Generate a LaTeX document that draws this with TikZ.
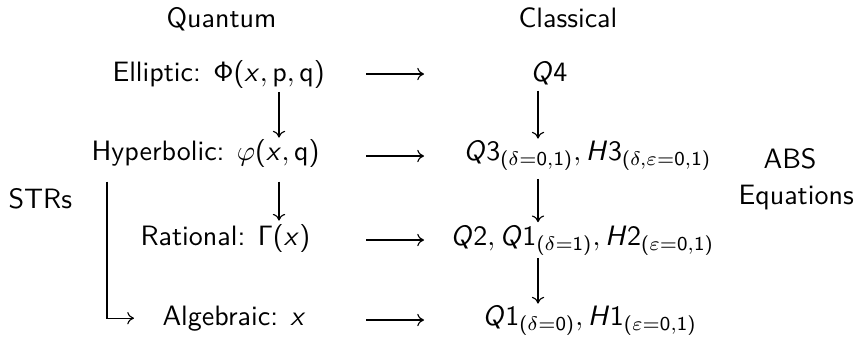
\documentclass[tikz,border=0pt]{standalone}
\usetikzlibrary{arrows.meta}
\renewcommand{\familydefault}{\sfdefault}
% sans math as on slides
\DeclareSymbolFont{sfletters}{OT1}{cmss}{m}{sl}
\DeclareSymbolFont{sfupright}{OT1}{cmss}{m}{n}
\DeclareMathSymbol{x}{\mathalpha}{sfletters}{`x}
\DeclareMathSymbol{Q}{\mathalpha}{sfletters}{`Q}
\DeclareMathSymbol{H}{\mathalpha}{sfletters}{`H}
\DeclareMathSymbol{p}{\mathalpha}{sfupright}{`p}
\DeclareMathSymbol{q}{\mathalpha}{sfupright}{`q}
\DeclareMathSymbol{0}{\mathalpha}{sfupright}{`0}
\DeclareMathSymbol{1}{\mathalpha}{sfupright}{`1}
\DeclareMathSymbol{2}{\mathalpha}{sfupright}{`2}
\DeclareMathSymbol{3}{\mathalpha}{sfupright}{`3}
\DeclareMathSymbol{4}{\mathalpha}{sfupright}{`4}
\DeclareMathSymbol{\sfPhi}{\mathalpha}{sfupright}{"08}
\DeclareMathSymbol{\sfGamma}{\mathalpha}{sfupright}{"00}
\DeclareMathSymbol{(}{\mathopen}{sfupright}{`(}
\DeclareMathSymbol{)}{\mathclose}{sfupright}{`)}
\begin{document}
\begin{tikzpicture}[x=0.357pt,y=-0.357pt,
  lbl/.style={inner sep=0pt,anchor=base west,font=\sffamily},
  arr/.style={-{Computer Modern Rightarrow[length=2.4pt,width=4.4pt]},line width=0.4pt}]
  \useasboundingbox (0,0) rectangle (859,337);
  % headings
  \node[lbl] (quant) at (166,27) {Quantum};
  \node[lbl] (class) at (518,27) {Classical};
  \node[lbl] (strs) at (8,208) {STRs};
  \node[lbl] (abs) at (763,168) {ABS};
  \node[lbl] (eqs) at (738,204) {Equations};
  % quantum side
  \node[lbl] (ell) at (112,81) {Elliptic: $\sfPhi(x,p,q)$};
  \node[lbl] (hyp) at (91,160) {Hyperbolic: $\varphi(x,q)$};
  \node[lbl] (rat) at (140,245) {Rational: $\sfGamma(x)$};
  \node[lbl] (alg) at (162,325) {Algebraic: $x$};
  % classical side
  \node[lbl] (q4) at (530,81) {$Q4$};
  \node[lbl] (q3) at (463,160) {$Q3_{(\delta=0,1)},H3_{(\delta,\varepsilon=0,1)}$};
  \node[lbl] (q2) at (450,245) {$Q2,Q1_{(\delta=1)},H2_{(\varepsilon=0,1)}$};
  \node[lbl] (q1) at (482,325) {$Q1_{(\delta=0)},H1_{(\varepsilon=0,1)}$};
  % columns of the vertical arrows
  \coordinate (qcol) at (279,0);
  \coordinate (ccol) at (538,0);
  \coordinate (lcol) at (107,0);
  % quantum to classical
  \foreach \r/\y in {1/74,2/156,3/240,4/320} {
    \coordinate (m\r a) at (366,\y);
    \coordinate (m\r b) at (424,\y);
    \draw[arr] (m\r a) -- (m\r b);
  }
  % degenerations
  \foreach \a/\b/\c/\s/\t in {ell/hyp/qcol/1.2pt/0.3pt,hyp/rat/qcol/5pt/1pt,
      q4/q3/ccol/2pt/0.5pt,q3/q2/ccol/3pt/1pt,q2/q1/ccol/1pt/0.5pt}
    \draw[arr,shorten <=\s,shorten >=\t] (\a.south -| \c) -- (\b.north -| \c);
  % STRs
  \draw[arr,shorten <=5pt,shorten >=10pt] (hyp.south -| lcol) |- (alg.west);
\end{tikzpicture}
\end{document}
